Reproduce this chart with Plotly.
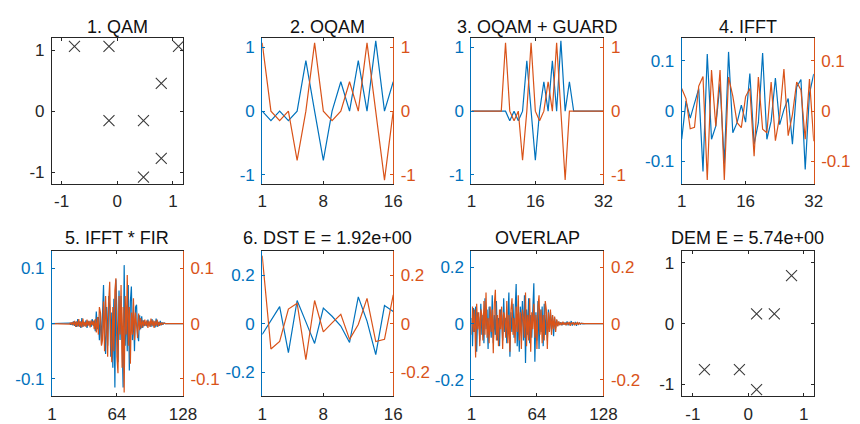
import plotly.graph_objects as go

BLUE = "#0072BD"
ORANGE = "#D95319"
DARK = "#262626"
FONT = "Liberation Sans, Arial, sans-serif"

# ---------------- data ----------------
titles = ["1. QAM", "2. OQAM", "3. OQAM + GUARD", "4. IFFT",
          "5. IFFT * FIR", "6. DST E = 1.92e+00", "OVERLAP", "DEM E = 5.74e+00"]

qam_re = [-0.77, -0.15, 1.10, 0.79, -0.15, 0.47, 0.79, 0.47]
qam_im = [1.07, 1.07, 1.07, 0.46, -0.15, -0.15, -0.77, -1.08]

oqam_re = [0, -0.15, 0, -0.15, 0, 0.79, 0, -0.77, 0, 0.46, 0, 0.79, 0, 1.10, 0, 0.46]
oqam_im = [1.07, 0, -0.15, 0, -0.77, 0, 1.07, 0, -0.15, 0, 0.46, 0, 1.07, 0, -1.08, 0]

guard_re = [0, 0, 0, 0, 0, 0, 0, 0,
            0, -0.15, 0, -0.15, 0, 0.79, 0, -0.77, 0, 0.46, 0, 0.79, 0, 1.10, 0, 0.46,
            0, 0, 0, 0, 0, 0, 0, 0]
guard_im = [0, 0, 0, 0, 0, 0, 0, 0,
            1.07, 0, -0.15, 0, -0.77, 0, 1.07, 0, -0.15, 0, 0.46, 0, 1.07, 0, -1.08, 0,
            0, 0, 0, 0, 0, 0, 0, 0]

ifft_re = [-0.056, 0.02, -0.014, 0.016, 0.045, -0.12, 0.114, -0.056, -0.03, 0.055,
           -0.105, 0.118, -0.043, -0.023, 0.012, -0.022, 0.075, -0.066, -0.023, 0.116,
           -0.056, -0.02, 0.066, -0.027, 0.003, 0.025, -0.066, 0.048, 0.063, -0.116,
           0.035, 0.074]
ifft_im = [0.045, 0.025, -0.035, -0.032, 0.05, 0.069, -0.137, 0.082, -0.03, 0.082,
           -0.137, 0.068, 0.03, -0.023, -0.033, 0.029, 0.045, -0.09, 0.068, -0.036,
           -0.043, 0.058, -0.059, -0.01, 0.084, -0.049, -0.007, 0.058, 0.042, -0.056,
           0.064, -0.06]

fir_re = [0, 0, 0, 0, 0, 0, 0, 0, 0, 0, 0, 0, 0, 0, 0, 0, 0,
          0.001, -0.002, 0.002, -0.003, 0.004, -0.004, 0.003, -0.006, 0.008, -0.005,
          0.004, -0.008, 0.01, -0.006, 0.003, -0.004, 0.006, -0.008, 0.005, -0.003,
          0.004, -0.006, 0.008, -0.004, 0.006, -0.014, 0.022, -0.01, 0.012, -0.03,
          0.02, -0.038, 0.045, 0.07, -0.02, -0.055, 0.03, -0.04, 0.05, 0.03,
          -0.06, 0.02, -0.08, 0.045, -0.116, 0.08, 0.02, -0.07, 0.06, -0.03,
          0.05, -0.06, -0.116, 0.106, -0.04, 0.03, -0.05, 0.07, -0.085, 0.04,
          0.067, -0.03, 0.02, -0.05, 0.03, 0.034, -0.02, -0.032, 0.015, -0.01,
          0.013, -0.008, 0.006, -0.004, 0.003, -0.005, 0.007, -0.004, 0.002, -0.006,
          0.008, -0.005, 0.004, -0.007, 0.009, -0.006, 0.003, -0.004, 0.005, -0.003,
          0.002, -0.001, 0.001,
          0, 0, 0, 0, 0, 0, 0, 0, 0, 0, 0, 0, 0, 0, 0, 0, 0, 0]
fir_im = [0, 0, 0, 0, 0, 0, 0, 0, 0, 0, 0, 0, 0, 0, 0, 0, 0,
          -0.001, 0.002, -0.002, 0.003, -0.003, 0.005, -0.006, 0.004, -0.005, 0.008,
          -0.006, 0.004, -0.007, 0.009, -0.005, 0.003, -0.006, 0.007, -0.004, 0.005,
          -0.007, 0.006, -0.003, 0.005, -0.01, 0.008, -0.016, 0.012, -0.02, 0.03,
          0.02, -0.04, -0.03, 0.04, -0.05, 0.05, -0.02, -0.06, 0.04, 0.076,
          -0.03, -0.07, 0.03, -0.05, 0.06, 0.082, -0.06, -0.09, 0.05, -0.02,
          0.07, -0.08, 0.03, -0.125, 0.05, -0.02, 0.088, -0.04, 0.03, -0.073,
          0.02, -0.02, 0.046, -0.03, 0.02, -0.015, -0.026, 0.018, -0.012, 0.01,
          -0.008, 0.006, -0.005, 0.007, -0.004, 0.006, -0.008, 0.005, -0.006, 0.009,
          -0.004, 0.006, -0.008, 0.005, -0.004, 0.007, -0.005, 0.003, -0.003, 0.002,
          -0.002, 0.001,
          0, 0, 0, 0, 0, 0, 0, 0, 0, 0, 0, 0, 0, 0, 0, 0, 0, 0, 0]

dst_re = [-0.045, 0.012, 0.07, -0.12, 0.095, 0.007, -0.082, 0.064, 0.03, -0.01,
          -0.078, 0.11, 0.01, -0.128, 0.074, 0.05]
dst_im = [0.28, -0.105, -0.074, 0.06, 0.084, -0.149, 0.095, -0.034, 0.003, 0.038,
          -0.065, -0.004, 0.104, -0.074, -0.065, 0.118]

ovl_re = [0.02, -0.08, 0.055, -0.03, 0.06, -0.1, 0.04, 0.02, -0.06, 0.07,
          -0.04, 0.03, -0.07, 0.09, -0.02, 0.05, -0.09, 0.06, 0.02, -0.05,
          0.1, -0.07, 0.03, -0.04, 0.08, -0.06, 0.02, -0.08, 0.05, 0.03,
          -0.06, 0.09, -0.03, 0.02, -0.07, 0.06, 0.11, -0.118, 0.04, -0.03,
          0.07, -0.05, 0.02, 0.14, -0.08, 0.03, -0.1, 0.06, -0.02, 0.08,
          -0.06, 0.1, -0.14, 0.05, -0.04, 0.09, -0.07, 0.03, -0.05, 0.07,
          0.143, -0.135, 0.04, -0.06, 0.08, -0.09, 0.05, -0.03, 0.06, -0.08,
          0.07, -0.04, 0.03, -0.06, 0.05, -0.03, 0.04, -0.02, 0.03, -0.045,
          0.02, -0.015, 0.012, -0.008, 0.006, -0.004, 0.005, -0.006, 0.003, -0.002,
          0.004, -0.005, 0.008, -0.006, 0.003, -0.004, 0.009, -0.007, 0.004, -0.003,
          0.006, -0.008, 0.005, -0.003, 0.002, -0.002, 0.001, -0.001,
          0, 0, 0, 0, 0, 0, 0, 0, 0, 0, 0, 0, 0, 0, 0, 0, 0, 0, 0, 0]
ovl_im = [-0.04, 0.06, -0.03, 0.05, -0.12, 0.07, -0.02, 0.04, -0.08, 0.05,
          0.03, -0.06, 0.08, -0.04, 0.11, -0.05, 0.02, -0.07, 0.06, -0.03,
          0.05, -0.105, 0.07, 0.12, -0.06, 0.03, -0.08, 0.05, -0.02, 0.06,
          -0.09, 0.04, 0.02, -0.05, 0.08, -0.07, 0.03, -0.1, 0.05, 0.09,
          -0.04, 0.02, -0.07, 0.06, -0.03, 0.1, -0.06, 0.04, -0.09, 0.05,
          0.02, -0.05, 0.11, -0.08, 0.03, -0.06, 0.09, -0.1, 0.04, -0.02,
          0.07, -0.05, 0.03, -0.09, 0.06, 0.1, -0.04, 0.05, -0.07, 0.03,
          -0.06, 0.08, 0.05, -0.09, 0.04, -0.03, 0.05, -0.04, 0.03, -0.02,
          0.025, -0.03, 0.015, -0.01, 0.008, -0.006, 0.004, -0.005, 0.007, -0.004,
          0.003, -0.006, 0.005, -0.003, 0.006, -0.008, 0.004, -0.002, 0.005, -0.006,
          0.003, -0.004, 0.006, -0.004, 0.002, -0.001, 0.001,
          0, 0, 0, 0, 0, 0, 0, 0, 0, 0, 0, 0, 0, 0, 0, 0, 0, 0, 0, 0, 0]

dem_re = [0.78, 0.15, 0.47, -0.79, -0.16, 0.15]
dem_im = [0.79, 0.16, 0.16, -0.76, -0.76, -1.09]

# ---------------- figure ----------------
W, H = 860, 424
cols = [(48, 182), (263, 397), (477, 612), (692, 827)]
rows = [(39, 187), (255, 403)]


def xdom(c):
    return [c[0] / W, c[1] / W]


def ydom(r):
    return [(H - r[1]) / H, (H - r[0]) / H]


fig = go.Figure()
layout = dict(width=W, height=H, margin=dict(l=0, r=0, t=0, b=0, pad=0),
              paper_bgcolor="white", plot_bgcolor="white", showlegend=False,
              font=dict(family=FONT, size=17, color=DARK))

tickfont = dict(family=FONT, size=17)


def fmt(v):
    return "%g" % v


def xaxis_cfg(k, rng, tv, dom):
    return dict(domain=dom, range=rng, anchor="y%d" % k, tickvals=tv,
                ticktext=[fmt(v) for v in tv], showline=True, mirror="ticks",
                linecolor=DARK, linewidth=1, ticks="inside", ticklen=3,
                tickcolor=DARK, showgrid=False, zeroline=False,
                tickfont=dict(tickfont, color=DARK), ticklabelstandoff=2,
                fixedrange=True)


def yaxis_cfg(k, rng, tv, dom, color, mirror, side="left", overlay=None):
    d = dict(range=rng, anchor="x%d" % k, tickvals=tv,
             ticktext=[fmt(v) for v in tv], showline=True, mirror=mirror,
             linecolor=color, linewidth=1, ticks="inside", ticklen=3,
             tickcolor=color, showgrid=False, zeroline=False, side=side,
             tickfont=dict(tickfont, color=color), ticklabelstandoff=3,
             fixedrange=True)
    if overlay:
        d["overlaying"] = overlay
    else:
        d["domain"] = dom
    return d


panels = [
    (1, 0, 0, "scatter", [-1.175, 1.18], [-1, 0, 1], [-1.19, 1.2], [-1, 0, 1], (qam_re, qam_im)),
    (2, 1, 0, "dual", [1, 16], [1, 8, 16], [-1.14, 1.14], [-1, 0, 1], (oqam_re, oqam_im)),
    (3, 2, 0, "dual", [1, 32], [1, 16, 32], [-1.14, 1.14], [-1, 0, 1], (guard_re, guard_im)),
    (4, 3, 0, "dual", [1, 32], [1, 16, 32], [-0.145, 0.145], [-0.1, 0, 0.1], (ifft_re, ifft_im)),
    (5, 0, 1, "dual", [1, 128], [1, 64, 128], [-0.132, 0.132], [-0.1, 0, 0.1], (fir_re, fir_im)),
    (6, 1, 1, "dual", [1, 16], [1, 8, 16], [-0.3, 0.3], [-0.2, 0, 0.2], (dst_re, dst_im)),
    (7, 2, 1, "dual", [1, 128], [1, 64, 128], [-0.258, 0.258], [-0.2, 0, 0.2], (ovl_re, ovl_im)),
    (8, 3, 1, "scatter", [-1.2, 1.18], [-1, 0, 1], [-1.2, 1.2], [-1, 0, 1], (dem_re, dem_im)),
]

annotations = []
for k, c, r, kind, xr, xt, yr, yt, data in panels:
    xd = xdom(cols[c])
    yd = ydom(rows[r])
    layout["xaxis%d" % k] = xaxis_cfg(k, xr, xt, xd)
    if kind == "scatter":
        layout["yaxis%d" % k] = yaxis_cfg(k, yr, yt, yd, DARK, "ticks")
        fig.add_trace(go.Scatter(x=data[0], y=data[1], mode="markers",
                                 xaxis="x%d" % k, yaxis="y%d" % k,
                                 marker=dict(symbol="x-thin", size=11,
                                             line=dict(color="#3a3a3a", width=1.1))))
    else:
        sec = 8 + k
        layout["yaxis%d" % k] = yaxis_cfg(k, yr, yt, yd, BLUE, False)
        layout["yaxis%d" % sec] = yaxis_cfg(k, yr, yt, yd, ORANGE, False,
                                            side="right", overlay="y%d" % k)
        n = len(data[0])
        xs = list(range(1, n + 1))
        fig.add_trace(go.Scatter(x=xs, y=data[0], mode="lines",
                                 xaxis="x%d" % k, yaxis="y%d" % k,
                                 line=dict(color=BLUE, width=1.2)))
        fig.add_trace(go.Scatter(x=xs, y=data[1], mode="lines",
                                 xaxis="x%d" % k, yaxis="y%d" % sec,
                                 line=dict(color=ORANGE, width=1.2)))
    ty = (H - (27 if r == 0 else 242)) / H
    annotations.append(dict(text=titles[k - 1], x=(xd[0] + xd[1]) / 2, y=ty,
                            xref="paper", yref="paper", showarrow=False,
                            xanchor="center", yanchor="middle",
                            font=dict(family=FONT, size=18, color="#111111")))

layout["annotations"] = annotations
fig.update_layout(**layout)
fig.write_html("out.html",
               config={"displayModeBar": False, "staticPlot": True},
               post_script="document.body.style.margin='0';"
                           "document.body.style.overflow='hidden';")
